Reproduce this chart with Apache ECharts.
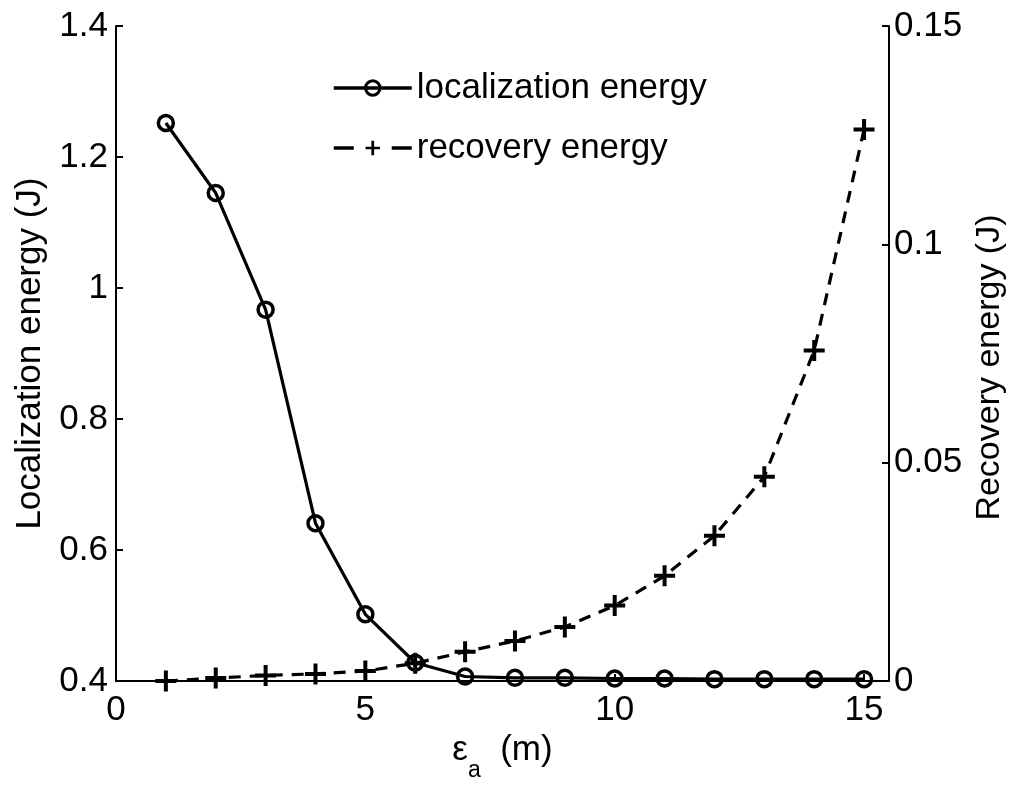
<!DOCTYPE html>
<html>
<head>
<meta charset="utf-8">
<script src="https://cdn.jsdelivr.net/npm/echarts@6/dist/echarts.min.js"></script>
<style>
html,body{margin:0;padding:0;background:#fff;}
#chart{width:1024px;height:787px;}
</style>
</head>
<body>
<div id="chart"></div>
<script>
// ---- data ----
const xValues = [1, 2, 3, 4, 5, 6, 7, 8, 9, 10, 11, 12, 13, 14, 15];
const localizationEnergy = [1.252, 1.145, 0.967, 0.641, 0.502, 0.428, 0.407, 0.405, 0.405, 0.404, 0.404, 0.403, 0.403, 0.403, 0.403];
const recoveryEnergy = [0.0000, 0.0007, 0.0013, 0.00165, 0.0023, 0.0041, 0.0067, 0.0092, 0.0124, 0.0173, 0.0241, 0.0333, 0.0468, 0.0757, 0.1263];
const seriesNames = ['localization energy', 'recovery energy'];
const leftAxisName = 'Localization energy (J)';
const rightAxisName = 'Recovery energy (J)';

const FONT = '"Liberation Sans", Arial, Helvetica, sans-serif';
const plusPath = 'path://M8.5,0h4v8.5h8.5v4h-8.5v8.5h-4v-8.5h-8.5v-4h8.5z';

const chart = echarts.init(document.getElementById('chart'), null, {renderer: 'canvas'});
const axisLine = {show: true, lineStyle: {color: '#000', width: 2}};
const axisTick = {show: true, inside: true, length: 7, lineStyle: {color: '#000', width: 2}};

chart.setOption({
  animation: false,
  backgroundColor: '#fff',
  textStyle: {fontFamily: FONT, color: '#000'},
  grid: {left: 116, right: 135, top: 26, bottom: 98, containLabel: false},
  legend: {
    orient: 'vertical',
    left: 332,
    top: 68,
    itemWidth: 78,
    itemHeight: 18,
    itemGap: 20,
    padding: 0,
    data: [
      {name: seriesNames[0], lineStyle: {width: 3.5, color: '#000'},
       itemStyle: {color: 'rgba(0,0,0,0)', borderColor: '#000', borderWidth: 3}},
      {name: seriesNames[1], lineStyle: {width: 3.5, color: '#000', type: [20, 38]},
       itemStyle: {color: '#000', borderWidth: 0}}
    ],
    textStyle: {fontFamily: FONT, fontSize: 35, color: '#000', lineHeight: 40}
  },
  xAxis: {
    type: 'value',
    min: 0,
    max: 15.5,
    interval: 5,
    axisLine: axisLine,
    axisTick: axisTick,
    splitLine: {show: false},
    axisLabel: {
      fontFamily: FONT, fontSize: 35, color: '#000', margin: 12,
      formatter: function (v) { return (Math.abs(v % 5) < 1e-9) ? String(v) : ''; }
    },
    name: '{e|ε}{s|a}{n|  (m)}',
    nameLocation: 'middle',
    nameGap: 38,
    nameTextStyle: {
      fontFamily: FONT, fontSize: 35, color: '#000',
      rich: {
        e: {fontFamily: FONT, fontSize: 35, lineHeight: 36, verticalAlign: 'top', color: '#000'},
        s: {fontFamily: FONT, fontSize: 23, lineHeight: 24, verticalAlign: 'top', padding: [26, 0, 0, 0], color: '#000'},
        n: {fontFamily: FONT, fontSize: 35, lineHeight: 36, verticalAlign: 'top', color: '#000'}
      }
    }
  },
  yAxis: [
    {
      type: 'value',
      position: 'left',
      min: 0.4,
      max: 1.4,
      interval: 0.2,
      axisLine: axisLine,
      axisTick: axisTick,
      splitLine: {show: false},
      axisLabel: {fontFamily: FONT, fontSize: 35, color: '#000', margin: 8},
      name: leftAxisName,
      nameLocation: 'middle',
      nameRotate: 90,
      nameGap: 68,
      nameTextStyle: {fontFamily: FONT, fontSize: 35, color: '#000'}
    },
    {
      type: 'value',
      position: 'right',
      min: 0,
      max: 0.15,
      interval: 0.05,
      axisLine: axisLine,
      axisTick: axisTick,
      splitLine: {show: false},
      axisLabel: {fontFamily: FONT, fontSize: 35, color: '#000', margin: 5},
      name: rightAxisName,
      nameLocation: 'middle',
      nameRotate: 90,
      nameGap: 80,
      nameTextStyle: {fontFamily: FONT, fontSize: 34, color: '#000', padding: [0, 28, 0, 0]}
    }
  ],
  series: [
    {
      name: seriesNames[0],
      type: 'line',
      yAxisIndex: 0,
      data: xValues.map((x, i) => [x, localizationEnergy[i]]),
      symbol: 'circle',
      symbolSize: 15,
      showAllSymbol: true,
      lineStyle: {color: '#000', width: 3.2, type: 'solid'},
      itemStyle: {color: 'rgba(0,0,0,0)', borderColor: '#000', borderWidth: 3.5},
      z: 3
    },
    {
      name: seriesNames[1],
      type: 'line',
      yAxisIndex: 1,
      data: xValues.map((x, i) => [x, recoveryEnergy[i]]),
      symbol: plusPath,
      symbolSize: 21,
      showAllSymbol: true,
      lineStyle: {color: '#000', width: 3.2, type: [12, 9]},
      itemStyle: {color: '#000', borderWidth: 0},
      z: 2
    }
  ]
});
</script>
</body>
</html>
